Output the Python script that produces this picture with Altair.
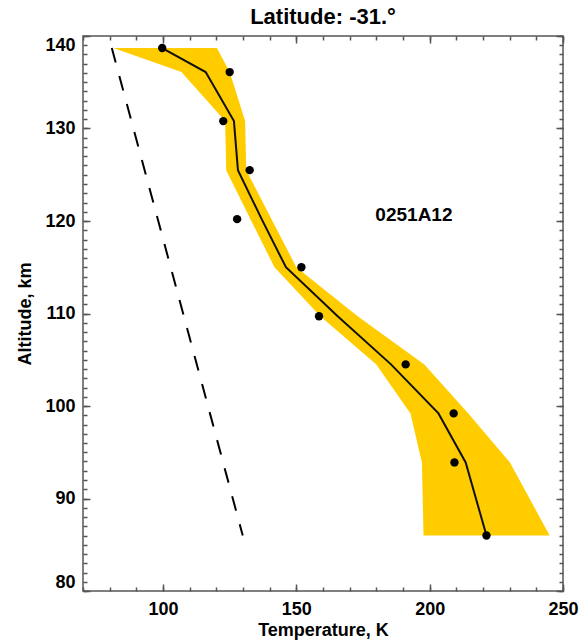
import altair as alt
import pandas as pd

# ---- data ----
alt_km = [138.7, 136.1, 130.8, 125.5, 120.2, 115.0, 109.7, 104.5, 99.2, 93.9, 86.0]
temp_obs = [99.7, 125.0, 122.6, 132.5, 127.8, 151.9, 158.5, 191.0, 209.0, 209.3, 221.3]
temp_fit = [99.7, 116.0, 126.6, 128.1, 137.0, 146.1, 165.5, 185.5, 203.3, 213.5, 221.3]
band_lo = [81.4, 106.9, 123.3, 123.7, 132.8, 141.8, 159.0, 180.0, 192.8, 197.1, 197.7]
band_hi = [120.2, 125.0, 130.8, 131.2, 140.7, 150.0, 173.0, 198.0, 214.5, 230.1, 245.0]

ref_temp = [80.8, 129.9]
ref_alt = [138.7, 86.0]

label_text = ["0251A12"]
label_temp = [194.1]
label_alt = [120.7]

x_major = [100, 150, 200, 250]
x_minor = list(range(70, 251, 10))
y_major = [80, 90, 100, 110, 120, 130, 140]
y_minor = list(range(80, 141))

FONT = "Liberation Sans"
GRAY = "#555555"

df_main = pd.DataFrame({
    "i": list(range(len(alt_km))),
    "alt": alt_km,
    "obs": temp_obs,
    "fit": temp_fit,
    "lo": band_lo,
    "hi": band_hi,
})
df_ref = pd.DataFrame({"i": [0, 1], "T": ref_temp, "alt": ref_alt})
df_lab = pd.DataFrame({"txt": label_text, "T": label_temp, "alt": label_alt})

xs = alt.Scale(domain=[70, 250], nice=False, zero=False)
ys = alt.Scale(domain=[80, 140], nice=False, zero=False)


def axis(orient, values, size, labels=False, **kw):
    base = dict(orient=orient, values=values, tickSize=size, offset=-size,
                domain=False, grid=False, tickColor=GRAY, tickWidth=1.5,
                tickOpacity=1, ticks=True, zindex=1, labels=labels)
    if labels:
        base.update(dict(format="d", labelFont=FONT, labelFontSize=18,
                         labelFontWeight="bold", labelColor="black"))
    base.update(kw)
    return alt.Axis(**base)


title_style = dict(titleFont=FONT, titleFontSize=18, titleFontWeight="bold",
                   titleColor="black")

band = alt.Chart(df_main).mark_area(orient="horizontal", fill="#FFCC00",
                                    opacity=1).encode(
    x=alt.X("lo:Q", scale=xs, title="Temperature, K",
            axis=axis("bottom", x_major, 7, labels=True, labelPadding=9,
                      labelFlush=False, titlePadding=3, **title_style)),
    x2=alt.X2("hi"),
    y=alt.Y("alt:Q", scale=ys, title="Altitude, km",
            axis=axis("left", y_major, 7, labels=True, labelPadding=8,
                      labelFlush=True, titlePadding=10, **title_style)),
)

ref = alt.Chart(df_ref).mark_line(color="black", strokeWidth=2, strokeDash=[15, 14]).encode(
    x=alt.X("T:Q", scale=xs, title=None, axis=axis("bottom", x_minor, 4)),
    y=alt.Y("alt:Q", scale=ys, title=None, axis=axis("left", y_minor, 4)),
    order="i:Q",
)

fit = alt.Chart(df_main).mark_line(color="#111111", strokeWidth=2).encode(
    x=alt.X("fit:Q", scale=xs, title=None, axis=axis("top", x_major, 7)),
    y=alt.Y("alt:Q", scale=ys, title=None, axis=axis("right", y_major, 7)),
    order="i:Q",
)

dots = alt.Chart(df_main).mark_circle(color="black", size=70, opacity=1).encode(
    x=alt.X("obs:Q", scale=xs, title=None, axis=axis("top", x_minor, 4)),
    y=alt.Y("alt:Q", scale=ys, title=None, axis=axis("right", y_minor, 4)),
)

lab = alt.Chart(df_lab).mark_text(font=FONT, fontSize=19, fontWeight="bold",
                                  color="black", align="center", baseline="middle").encode(
    x=alt.X("T:Q", scale=xs, axis=None),
    y=alt.Y("alt:Q", scale=ys, axis=None),
    text="txt:N",
)

chart = alt.layer(band, ref, fit, dots, lab).resolve_axis(
    x="independent", y="independent"
).properties(
    width=480,
    height=555,
    title=alt.TitleParams("Latitude: -31.°", font=FONT, fontSize=22,
                          fontWeight="bold", color="black", anchor="middle",
                          offset=6),
    autosize=alt.AutoSizeParams(type="none"),
    padding={"left": 83, "top": 36, "right": 19, "bottom": 52},
).configure_view(stroke=GRAY, strokeWidth=1.5)

chart.save("out.html", embed_options={"renderer": "svg", "actions": False})
